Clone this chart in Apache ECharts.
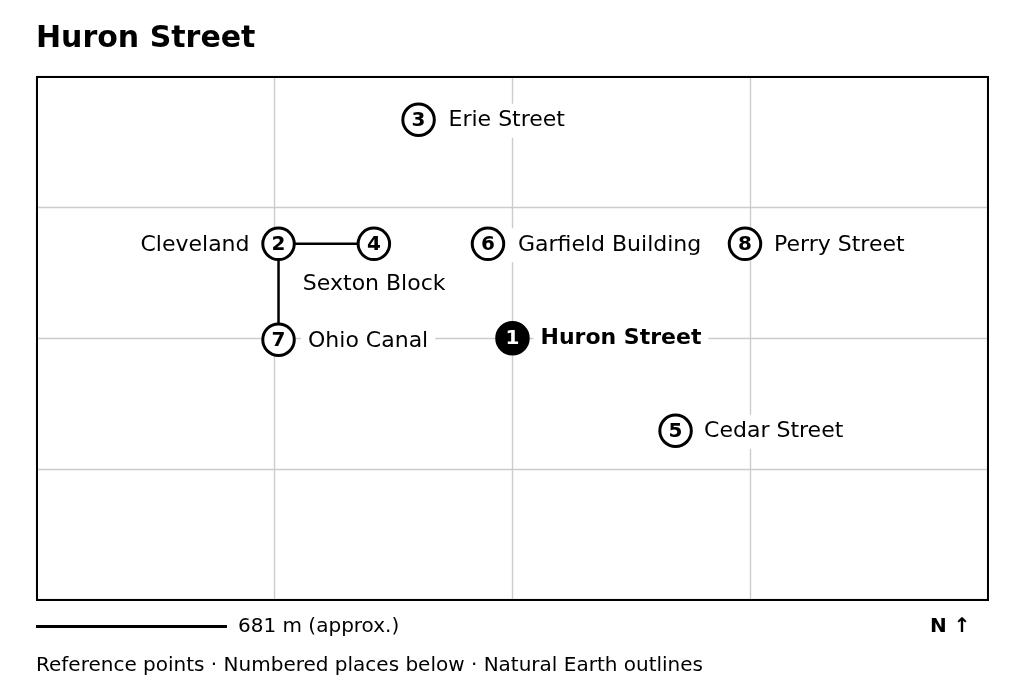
<!DOCTYPE html>
<html><head><meta charset="utf-8">
<style>html,body{margin:0;padding:0;background:#fff}#c{width:1024px;height:692px}</style>
<script src="https://cdn.jsdelivr.net/npm/echarts@6/dist/echarts.min.js"></script>
</head><body><div id="c"></div>
<script>
const ids   = ['1','2','3','4','5','6','7','8'];
const names = ['Huron Street','Cleveland','Erie Street','Sexton Block','Cedar Street','Garfield Building','Ohio Canal','Perry Street'];
const xs    = [2.002,1.018,1.607,1.419,2.688,1.899,1.018,2.980];
const ys    = [1.998,2.720,3.669,2.720,1.291,2.720,1.987,2.720];
const labelPos = [[21,0],[-22,1.5],[23,1],[-78,40.5],[21.5,1],[23,1.5],[22.5,1.5],[22,1.5]];
const labelAlign = ['left','right','left','left','left','left','left','left'];
const links = [[1,3],[1,6]];
const titleText = 'Huron Street';
const scaleText = '681 m (approx.)';
const northText = 'N ↑';
const footText = 'Reference points · Numbered places below · Natural Earth outlines';
const F = '"DejaVu Sans"';
const chart = echarts.init(document.getElementById('c'), null, {renderer:'canvas'});
const seg = l => [[xs[l[0]],ys[l[0]]],[xs[l[1]],ys[l[1]]]];
chart.setOption({
  animation:false,
  backgroundColor:'#fff',
  textStyle:{fontFamily:F},
  grid:{left:36.5,top:76.5,width:951,height:523,show:false},
  xAxis:{type:'value',min:0,max:4,interval:1,axisLine:{show:false},axisTick:{show:false},axisLabel:{show:false},
    splitLine:{show:true,lineStyle:{color:'#cccccc',width:1.4}}},
  yAxis:{type:'value',min:0,max:4,interval:1,axisLine:{show:false},axisTick:{show:false},axisLabel:{show:false},
    splitLine:{show:true,lineStyle:{color:'#cccccc',width:1.4}}},
  series:[
    ...links.map(l=>({type:'line',silent:true,symbol:'none',z:2,data:seg(l),lineStyle:{color:'#fff',width:12,opacity:1}})),
    ...links.map(l=>({type:'line',silent:true,symbol:'none',z:3,data:seg(l),lineStyle:{color:'#000',width:2.5,opacity:1}})),
    {type:'scatter',z:4,symbol:'circle',symbolSize:1,
      data:xs.map((x,i)=>({value:[x,ys[i]],
        label:{show:true,formatter:names[i],position:'inside',offset:labelPos[i],align:labelAlign[i],verticalAlign:'middle',
          color:'#000',fontFamily:F,fontSize:22,lineHeight:26,fontWeight:i===0?'bold':'normal',
          backgroundColor:'#fff',padding:[4,7]}})),
      itemStyle:{color:'rgba(255,255,255,0)',opacity:1}},
    {type:'scatter',z:5,symbol:'circle',symbolSize:31.5,itemStyle:{opacity:1},
      data:xs.map((x,i)=>({value:[x,ys[i]],
        itemStyle:{color:i===0?'#000':'#fff',borderColor:'#000',borderWidth:3,opacity:1},
        label:{show:true,formatter:ids[i],position:'inside',offset:[0,1],color:i===0?'#fff':'#000',fontFamily:F,fontSize:20,fontWeight:'bold'}}))}
  ],
  graphic:[
    {type:'rect',z:10,silent:true,shape:{x:37,y:77,width:951,height:523},style:{fill:'none',stroke:'#000',lineWidth:2}},
    {type:'text',left:36,top:24,style:{text:titleText,font:'bold 30px '+F,fill:'#000'}},
    {type:'line',shape:{x1:36,y1:626.5,x2:227,y2:626.5},style:{stroke:'#000',lineWidth:3}},
    {type:'text',left:238,top:617,style:{text:scaleText,font:'20px '+F,fill:'#000'}},
    {type:'text',left:930,top:617,style:{text:northText,font:'bold 20px '+F,fill:'#000'}},
    {type:'text',left:36,top:656,style:{text:footText,font:'20px '+F,fill:'#000'}}
  ]
});
</script></body></html>
